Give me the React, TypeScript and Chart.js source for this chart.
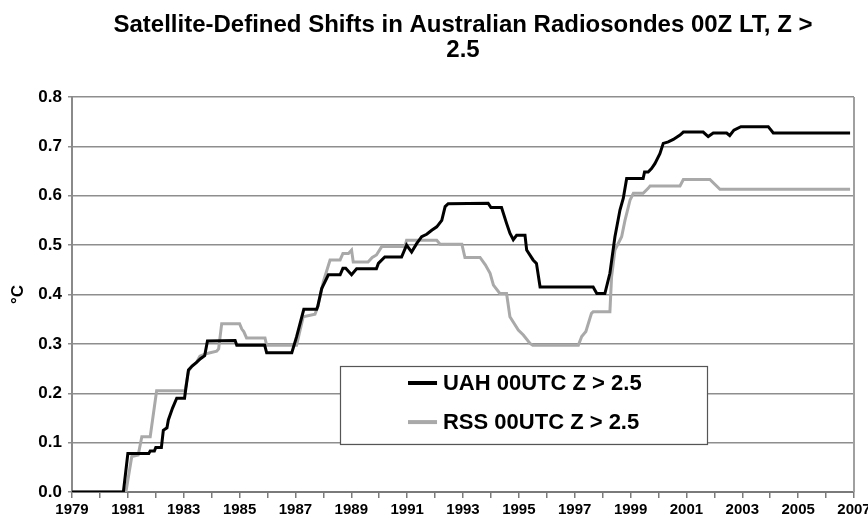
import React, { useEffect, useRef } from 'react';
import { Chart, registerables } from 'chart.js';

Chart.register(...registerables);

const titleLines = ['Satellite-Defined Shifts in Australian Radiosondes 00Z LT, Z >', '2.5'];
const yAxisTitle = '°C';
const seriesNames = ['UAH 00UTC Z > 2.5', 'RSS 00UTC Z > 2.5'];
const xMin = 1979;
const xMax = 2007;
const yMin = 0;
const yMax = 0.8;

const uahYears = [
  1979.0, 1980.84, 1981.0, 1981.75, 1981.8, 1981.95, 1982.0, 1982.2, 1982.27, 1982.4,
  1982.45, 1982.6, 1982.75, 1983.03, 1983.06, 1983.17, 1983.3, 1983.45, 1983.6, 1983.75,
  1983.85, 1984.84, 1984.9, 1985.9, 1985.97, 1986.87, 1987.04, 1987.3, 1987.76, 1987.8,
  1987.94, 1988.18, 1988.6, 1988.7, 1988.8, 1989.01, 1989.19, 1989.9, 1989.97, 1990.2,
  1990.8, 1990.98, 1991.16, 1991.34, 1991.52, 1991.7, 1991.88, 1992.06, 1992.24, 1992.36,
  1992.47, 1993.9, 1994.0, 1994.38, 1994.56, 1994.68, 1994.8, 1994.92, 1995.22, 1995.28,
  1995.51, 1995.63, 1995.76, 1997.66, 1997.79, 1998.08, 1998.26, 1998.44, 1998.62, 1998.74,
  1998.86, 1999.45, 1999.5, 1999.63, 1999.75, 1999.87, 2000.05, 2000.17, 2000.35, 2000.53,
  2000.77, 2000.89, 2001.6, 2001.78, 2001.96, 2002.44, 2002.55, 2002.7, 2002.95, 2003.93,
  2004.11, 2006.86,
];
const uahValues = [
  0.0, 0.0, 0.078, 0.078, 0.083, 0.083, 0.09, 0.09, 0.125, 0.13,
  0.146, 0.17, 0.19, 0.19, 0.203, 0.247, 0.255, 0.262, 0.27, 0.276,
  0.306, 0.307, 0.297, 0.297, 0.282, 0.282, 0.314, 0.37, 0.37, 0.376,
  0.412, 0.44, 0.44, 0.453, 0.453, 0.44, 0.452, 0.452, 0.463, 0.476,
  0.476, 0.5, 0.486, 0.503, 0.517, 0.522, 0.53, 0.537, 0.55, 0.578,
  0.584, 0.585, 0.576, 0.576, 0.544, 0.524, 0.511, 0.52, 0.52, 0.49,
  0.47, 0.463, 0.415, 0.415, 0.402, 0.402, 0.443, 0.517, 0.571, 0.595,
  0.635, 0.635, 0.648, 0.648, 0.655, 0.665, 0.685, 0.706, 0.709, 0.714,
  0.723, 0.729, 0.729, 0.72, 0.727, 0.727, 0.722, 0.733, 0.74, 0.74,
  0.727, 0.727,
];

const rssYears = [
  1979.0, 1980.93, 1981.14, 1981.37, 1981.5, 1981.8, 1982.03, 1983.05, 1983.17, 1983.3,
  1983.45, 1983.58, 1983.8, 1984.18, 1984.25, 1984.36, 1985.0, 1985.08, 1985.15, 1985.25,
  1985.91, 1985.97, 1987.04, 1987.28, 1987.7, 1987.8, 1988.0, 1988.24, 1988.6, 1988.7,
  1988.9, 1989.01, 1989.07, 1989.6, 1989.75, 1989.9, 1990.09, 1990.92, 1990.98, 1992.06,
  1992.18, 1992.96, 1993.07, 1993.61, 1993.8, 1993.97, 1994.09, 1994.32, 1994.56, 1994.68,
  1994.98, 1995.16, 1995.4, 1995.5, 1997.13, 1997.25, 1997.4, 1997.6, 1997.66, 1998.26,
  1998.32, 1998.44, 1998.68, 1998.8, 1998.98, 1999.1, 1999.45, 1999.63, 1999.7, 2000.77,
  2000.89, 2001.84, 2002.2, 2006.86,
];
const rssValues = [
  0.0, 0.0, 0.072, 0.075, 0.112, 0.112, 0.205, 0.205, 0.245, 0.255,
  0.262, 0.275, 0.28, 0.285, 0.29, 0.341, 0.341, 0.33, 0.325, 0.312,
  0.312, 0.297, 0.297, 0.355, 0.36, 0.375, 0.426, 0.47, 0.47, 0.483,
  0.483, 0.49, 0.466, 0.466, 0.475, 0.48, 0.497, 0.497, 0.51, 0.51,
  0.502, 0.502, 0.475, 0.475, 0.46, 0.443, 0.419, 0.402, 0.402, 0.355,
  0.328, 0.318, 0.301, 0.297, 0.297, 0.315, 0.325, 0.362, 0.365, 0.365,
  0.436, 0.49, 0.517, 0.55, 0.591, 0.605, 0.605, 0.615, 0.62, 0.62,
  0.633, 0.633, 0.613, 0.613,
];

const FONT = '"Liberation Sans", Arial, Helvetica, sans-serif';
const seriesColors = ['#000000', '#a9a9a9'];

const toPoints = (xs: number[], ys: number[]) => xs.map((x, i) => ({ x, y: ys[i] }));

const boxLegendPlugin = {
  id: 'boxLegend',
  afterDatasetsDraw(chart: any) {
    const { ctx, chartArea: a } = chart;
    const w = a.right - a.left;
    const h = a.bottom - a.top;
    const x0 = a.left + 0.343 * w;
    const x1 = a.left + 0.812 * w;
    const y0 = a.top + 0.681 * h;
    const y1 = a.top + 0.878 * h;
    ctx.save();
    ctx.fillStyle = '#ffffff';
    ctx.fillRect(x0, y0, x1 - x0, y1 - y0);
    ctx.strokeStyle = '#555555';
    ctx.lineWidth = 1.2;
    ctx.strokeRect(Math.round(x0) + 0.5, Math.round(y0) + 0.5, Math.round(x1 - x0), Math.round(y1 - y0));
    const rows = [0.724, 0.823];
    chart.data.datasets.forEach((ds: any, i: number) => {
      const yy = a.top + rows[i] * h;
      ctx.strokeStyle = ds.borderColor;
      ctx.lineWidth = 4;
      ctx.beginPath();
      ctx.moveTo(a.left + 0.4297 * w, yy);
      ctx.lineTo(a.left + 0.4668 * w, yy);
      ctx.stroke();
      ctx.fillStyle = '#000000';
      ctx.font = `bold 22px ${FONT}`;
      ctx.textBaseline = 'middle';
      ctx.textAlign = 'left';
      ctx.fillText(ds.label, a.left + 0.4744 * w, yy + 1);
    });
    ctx.restore();
  },
};

const frameRightPlugin = {
  id: 'frameRight',
  beforeDatasetsDraw(chart: any) {
    const { ctx, chartArea: a } = chart;
    ctx.save();
    ctx.strokeStyle = '#a0a0a0';
    ctx.lineWidth = 2;
    ctx.beginPath();
    ctx.moveTo(a.right, a.top);
    ctx.lineTo(a.right, a.bottom);
    ctx.stroke();
    ctx.restore();
  },
};

export default function App() {
  const canvasRef = useRef<HTMLCanvasElement | null>(null);

  useEffect(() => {
    const canvas = canvasRef.current;
    if (!canvas) return;
    const chart = new Chart(canvas, {
      type: 'line',
      data: {
        datasets: [
          {
            label: seriesNames[0],
            data: toPoints(uahYears, uahValues),
            borderColor: seriesColors[0],
            backgroundColor: seriesColors[0],
            borderWidth: 3,
            pointRadius: 0,
            tension: 0,
            fill: false,
          },
          {
            label: seriesNames[1],
            data: toPoints(rssYears, rssValues),
            borderColor: seriesColors[1],
            backgroundColor: seriesColors[1],
            borderWidth: 3,
            pointRadius: 0,
            tension: 0,
            fill: false,
          },
        ],
      },
      options: {
        responsive: false,
        animation: false,
        layout: { padding: { left: 4, right: 14, top: 0, bottom: 0 } },
        plugins: {
          legend: { display: false },
          tooltip: { enabled: false },
          title: {
            display: true,
            fullSize: false,
            text: titleLines,
            color: '#000000',
            font: { family: FONT, size: 24, weight: 'bold', lineHeight: 1.05 },
            padding: { top: 13, bottom: 33.6 },
          },
        },
        scales: {
          x: {
            type: 'linear',
            min: xMin,
            max: xMax,
            border: { display: true, color: '#7a7a7a', width: 2 },
            grid: { drawOnChartArea: false, drawTicks: true, tickLength: 6, color: '#7a7a7a', lineWidth: 1.5 },
            ticks: {
              stepSize: 1,
              autoSkip: false,
              maxRotation: 0,
              minRotation: 0,
              padding: 3,
              color: '#000000',
              font: { family: FONT, size: 15, weight: 'bold' },
              callback: (v: any) => ((Number(v) - xMin) % 2 === 0 ? String(v) : ''),
            },
            afterFit: (scale: any) => {
              scale.height = 26;
              scale.paddingLeft = 0;
              scale.paddingRight = 0;
            },
          },
          y: {
            min: yMin,
            max: yMax,
            border: { display: true, color: '#8a8a8a', width: 2 },
            grid: { color: '#8e8e8e', lineWidth: 1.5, drawTicks: true, tickLength: 4 },
            ticks: {
              stepSize: 0.1,
              padding: 6,
              color: '#000000',
              font: { family: FONT, size: 17, weight: 'bold' },
              callback: (v: any) => Number(v).toFixed(1),
            },
            title: {
              display: true,
              text: yAxisTitle,
              color: '#000000',
              font: { family: FONT, size: 17, weight: 'bold' },
              padding: { top: 4, bottom: 4 },
            },
            afterFit: (scale: any) => {
              scale.width = 68;
            },
          },
        },
      },
      plugins: [frameRightPlugin, boxLegendPlugin],
    } as any);
    return () => chart.destroy();
  }, []);

  return (
    <div style={{ position: 'fixed', left: 0, top: 0, width: 868, height: 518, background: '#ffffff' }}>
      <canvas ref={canvasRef} width={868} height={518} style={{ display: 'block' }} />
    </div>
  );
}
